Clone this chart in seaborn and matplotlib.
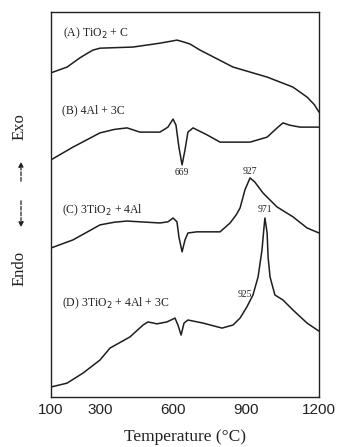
import matplotlib
matplotlib.use("Agg")
import matplotlib.pyplot as plt
import seaborn as sns
import pandas as pd

# ---- data (temperature in °C, DTA signal in arbitrary units) ----
temp_A = [100, 166, 219, 250, 272, 301, 437, 547, 600, 617, 640, 670, 712, 847, 987, 1093,
          1151, 1180, 1200]
sig_A = [84.2, 85.7, 88.1, 89.3, 90.1, 90.6, 90.9, 91.9, 92.5, 92.7, 92.3, 91.7, 90.1, 85.7,
         83.1, 80.5, 77.9, 76.0, 74.0]

temp_B = [100, 190, 250, 301, 360, 412, 465, 547, 580, 601, 613, 625, 638, 650, 662, 683,
          740, 794, 847, 917, 987, 1030, 1052, 1080, 1122, 1200]
sig_B = [61.6, 64.9, 66.9, 68.6, 69.5, 69.9, 68.8, 68.8, 70.1, 72.2, 70.6, 64.9, 60.3, 64.2,
         68.8, 69.9, 68.1, 66.2, 66.2, 66.2, 67.5, 70.0, 71.2, 70.6, 70.1, 70.1]

temp_C = [100, 190, 250, 301, 360, 412, 465, 547, 580, 601, 617, 625, 638, 650, 662, 699,
          794, 835, 860, 876, 896, 917, 937, 970, 1027, 1093, 1151, 1200]
sig_C = [38.7, 40.8, 42.9, 44.7, 45.4, 45.7, 45.5, 45.2, 45.5, 46.5, 45.5, 41.6, 37.7, 40.8,
         42.6, 42.9, 42.9, 45.2, 47.3, 49.1, 53.8, 56.9, 55.8, 53.0, 49.4, 46.8, 43.9, 42.6]

temp_D = [100, 166, 231, 301, 342, 424, 478, 498, 535, 576, 609, 621, 634, 646, 662, 724,
          802, 847, 876, 904, 929, 950, 966, 974, 978, 987, 991, 999, 1019, 1052, 1093,
          1151, 1200]
sig_D = [2.6, 3.6, 6.2, 9.6, 12.7, 15.6, 18.7, 19.5, 19.0, 19.5, 20.5, 18.7, 16.1, 19.2,
         20.0, 19.2, 17.9, 18.7, 20.5, 23.4, 26.5, 31.2, 38.2, 43.9, 46.5, 42.6, 36.4, 31.2,
         26.5, 25.2, 22.6, 19.2, 17.1]

curve_labels = ["(A) TiO$_2$ + C", "(B) 4Al + 3C", "(C) 3TiO$_2$ + 4Al",
                "(D) 3TiO$_2$ + 4Al + 3C"]
label_temp = [149, 145, 145, 145]
label_sig = [94.5, 74.5, 48.6, 24.4]

peak_text = ["669", "927", "971", "925"]
peak_temp = [638, 917, 978, 927]
peak_sig = [58.4, 58.7, 48.6, 26.5]

xticks = [100, 300, 600, 900, 1200]

# ---- build long table ----
frames = []
for name, t, s in zip("ABCD", [temp_A, temp_B, temp_C, temp_D], [sig_A, sig_B, sig_C, sig_D]):
    frames.append(pd.DataFrame({"T": t, "sig": s, "curve": name}))
df = pd.concat(frames, ignore_index=True)

sns.set_style("white")
serif = ["Liberation Serif", "DejaVu Serif"]
sans = ["Liberation Sans", "DejaVu Sans"]

fig = plt.figure(figsize=(3.38, 4.47), dpi=100)
ax = fig.add_axes([51 / 338, 50 / 447, 268 / 338, 385 / 447])

for name in "ABCD":
    sns.lineplot(data=df[df["curve"] == name], x="T", y="sig", ax=ax, color="#1e1e1e",
                 lw=1.1, estimator=None, legend=False)

for txt, tx, sy in zip(curve_labels, label_temp, label_sig):
    ax.text(tx, sy, txt, fontsize=8.5, family=serif, color="#222", va="center", ha="left")

for i, (txt, tx, sy) in enumerate(zip(peak_text, peak_temp, peak_sig)):
    ha = "right" if i == 3 else "center"
    ax.text(tx, sy, txt, fontsize=7, family=serif, color="#222", va="center", ha=ha)

ax.set_xlim(100, 1200)
ax.set_ylim(0, 100)
ax.set_yticks([])
ax.set_xticks(xticks)
ax.set_xticklabels([str(v) for v in xticks], family=sans, fontsize=11)
ax.tick_params(axis="x", direction="in", length=4, width=1, pad=4, colors="#222")
for sp in ax.spines.values():
    sp.set_color("#222")
    sp.set_linewidth(1.0)
ax.set_ylabel("")
ax.set_xlabel("Temperature (°C)", family=serif, fontsize=12.5, labelpad=9, color="#222")

fig.text(20 / 338, 1 - 127 / 447, "Exo", rotation=90, family=serif, fontsize=12,
         ha="center", va="center", color="#222")
fig.text(20 / 338, 1 - 268 / 447, "Endo", rotation=90, family=serif, fontsize=12,
         ha="center", va="center", color="#222")
ax.annotate("", xy=(21 / 338, 1 - 159 / 447), xytext=(21 / 338, 1 - 184 / 447),
            xycoords="figure fraction", textcoords="figure fraction",
            arrowprops=dict(arrowstyle="-|>", color="#222", lw=0.9, mutation_scale=7,
                            linestyle=(0, (3, 1.5))))
ax.annotate("", xy=(21 / 338, 1 - 230 / 447), xytext=(21 / 338, 1 - 198 / 447),
            xycoords="figure fraction", textcoords="figure fraction",
            arrowprops=dict(arrowstyle="-|>", color="#222", lw=0.9, mutation_scale=7,
                            linestyle=(0, (3, 1.5))))

fig.savefig("out.png", dpi=100)
